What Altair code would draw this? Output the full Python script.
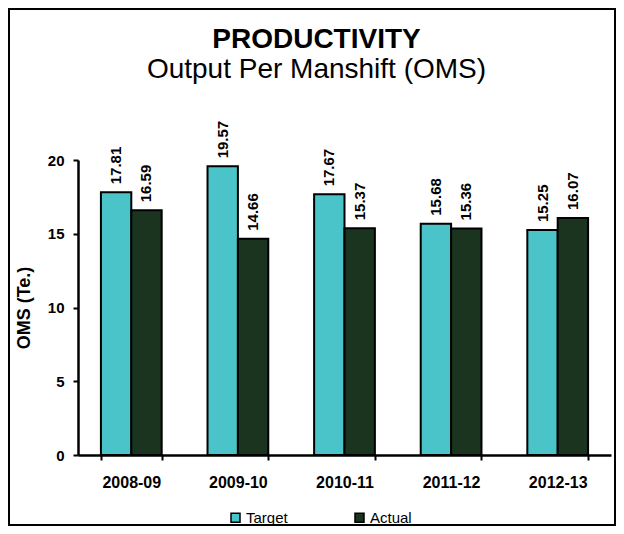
import altair as alt
import pandas as pd

years = ["2008-09", "2009-10", "2010-11", "2011-12", "2012-13"]
target = [17.81, 19.57, 17.67, 15.68, 15.25]
actual = [16.59, 14.66, 15.37, 15.36, 16.07]
series = ["Target", "Actual"]
colors = ["#4AC4C8", "#1B3420"]

rows = []
for i, y in enumerate(years):
    rows.append({"year": y, "series": "Target", "value": target[i]})
    rows.append({"year": y, "series": "Actual", "value": actual[i]})
df = pd.DataFrame(rows)

FONT = "Liberation Sans"

x_enc = alt.X(
    "year:N", sort=years, title=None,
    scale=alt.Scale(paddingInner=0.43, paddingOuter=0.215),
    axis=alt.Axis(labelAngle=0, labelFont=FONT, labelFontSize=16, labelFontWeight="bold",
                  labelColor="black", tickBand="extent", tickSize=5, tickWidth=2,
                  tickColor="black", domainColor="black", domainWidth=2.5,
                  labelPadding=14, labelBaseline="top", grid=False),
)
xo_enc = alt.XOffset("series:N", sort=series, scale=alt.Scale(paddingInner=0, paddingOuter=0))
y_enc = alt.Y(
    "value:Q", scale=alt.Scale(domain=[0, 20]),
    axis=alt.Axis(values=[0, 5, 10, 15, 20], grid=False, title="OMS (Te.)",
                  titleFont=FONT, titleFontSize=18, titleFontWeight="bold", titleColor="black",
                  titlePadding=14,
                  labelFont=FONT, labelFontSize=15, labelFontWeight="bold", labelColor="black",
                  labelPadding=9, tickSize=5, tickWidth=2, tickColor="black",
                  domainColor="black", domainWidth=2.5),
)

color_enc = alt.Color(
    "series:N", sort=series,
    scale=alt.Scale(domain=series, range=colors),
    legend=alt.Legend(title=None, orient="none", direction="horizontal",
                      legendX=150, legendY=350, symbolType="square", symbolSize=81,
                      symbolStrokeColor="black", symbolStrokeWidth=1.5, symbolOpacity=1,
                      labelFont=FONT, labelFontSize=15, labelColor="black",
                      labelOffset=3, columnPadding=64),
)

base = alt.Chart(df)
bars = base.mark_bar(stroke="black", strokeWidth=2, opacity=1).encode(
    x=x_enc, xOffset=xo_enc, y=y_enc, color=color_enc
)
labels = base.mark_text(
    angle=270, align="left", baseline="middle", dx=8,
    font=FONT, fontSize=15, fontWeight="bold", color="black"
).encode(
    x=alt.X("year:N", sort=years), xOffset=alt.XOffset("series:N", sort=series),
    y=alt.Y("value:Q"), text=alt.Text("value:Q", format=".2f")
)

frame = alt.Chart(pd.DataFrame({"a": [0]})).mark_rect(
    filled=False, stroke="black", strokeWidth=2
).encode(
    x=alt.value(-69), x2=alt.value(537), y=alt.value(-151), y2=alt.value(365)
)

chart = alt.layer(bars, labels, frame).properties(
    width=533, height=295,
    title=alt.TitleParams(
        text="PRODUCTIVITY", subtitle="Output Per Manshift (OMS)",
        font=FONT, fontSize=28, fontWeight="bold", color="black",
        subtitleFont=FONT, subtitleFontSize=28, subtitleColor="black",
        subtitlePadding=2, anchor="middle", dx=-28, offset=-76,
    ),
    autosize=alt.AutoSizeParams(type="none"),
    padding={"left": 70, "top": 152, "right": 5, "bottom": 71},
).configure(
    background="white",
    style={"cell": {"stroke": "transparent", "strokeWidth": 0}},
).configure_view(stroke="transparent", strokeWidth=0).configure_axis(grid=False)

chart.save("out.html", embed_options={"renderer": "svg", "actions": False})
